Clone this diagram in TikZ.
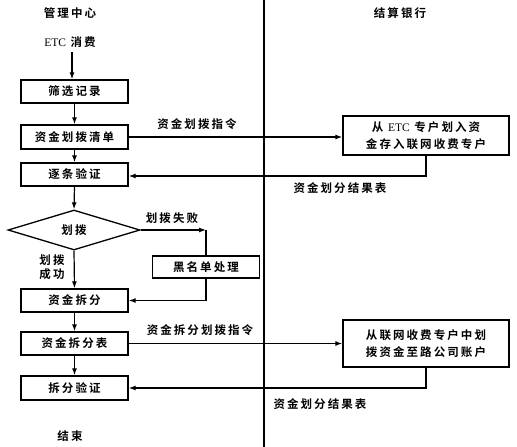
\documentclass[tikz,border=0pt]{standalone}
\usepackage{fontspec}
\setmainfont{Noto Sans CJK SC}[LetterSpace=18,BoldFont={Noto Sans CJK SC Bold}]
\newfontfamily\latf{Liberation Serif}[BoldFont={Liberation Serif Bold}]
\usetikzlibrary{arrows.meta,shapes.geometric}
\begin{document}
\begin{tikzpicture}[x=1pt,y=-1pt,
  fnt/.style={font=\fontsize{11.5}{14}\selectfont\bfseries},
  txt/.style={inner sep=0pt,fnt},
  box/.style={draw,line width=1.3pt,minimum width=107pt,minimum height=23pt,inner sep=0pt,fnt},
  bank/.style={draw,line width=1.3pt,minimum width=166pt,inner sep=0pt,align=center,font=\fontsize{11.5}{17}\selectfont\bfseries},
  dec/.style={draw,diamond,line width=1.3pt,minimum width=132pt,minimum height=40pt,inner sep=0pt,fnt},
  ln/.style={line width=1.2pt},
  arr/.style={line width=1.2pt,-{Latex[length=7pt,width=5pt]}}]
\useasboundingbox (0,0) rectangle (517,447);
\fill[white] (0,0) rectangle (517,447);
% lane divider
\coordinate (vt) at (264,0);
\coordinate (vb) at (264,447);
\draw[line width=1.1pt] (vt) -- (vb);
% headers
\node[txt] (h1) at (70,13) {管理中心};
\node[txt] (h2) at (400,13) {结算银行};
\node[txt] (etc) at (70,42) {{\latf\mdseries ETC} 消费};
% left column
\node[box] (b1) at (74.5,91.5) {筛选记录};
\node[box,minimum height=24pt] (b2) at (74.5,137) {资金划拨清单};
\node[box] (b3) at (74.5,174.5) {逐条验证};
\node[dec] (d) at (74,230) {划拨};
\node[box,minimum height=22pt] (bl) at (206,267) {黑名单处理};
\node[box] (b4) at (74.5,300.5) {资金拆分};
\node[box] (b5) at (74.5,343.5) {资金拆分表};
\node[box,minimum height=24pt] (b6) at (74.5,388) {拆分验证};
\node[txt] (end) at (70,436) {结束};
% bank column
\node[bank,minimum height=39pt] (k1) at (426,135.5) {从 {\latf\mdseries ETC} 专户划入资\\金存入联网收费专户};
\node[bank,minimum height=47pt] (k2) at (426,343.5) {从联网收费专户中划\\拨资金至路公司账户};
% labels
\node[txt] (l1) at (197,124) {资金划拨指令};
\node[txt] (l2) at (340,188) {资金划分结果表};
\node[txt] (l3) at (172,218) {划拨失败};
\node[txt,align=center] (l4) at (52,267) {划拨\\成功};
\node[txt] (l5) at (200,330) {资金拆分划拨指令};
\node[txt] (l6) at (320,404) {资金划分结果表};
% flow
\coordinate (e0) at (72,52);
\draw[arr] (e0) -- (e0 |- b1.north);
\draw[arr] (b1) -- (b2);
\draw[arr] (b2) -- (b3);
\draw[arr] (b3.south) -- (d.north);
\draw[arr] (d.south) -- (b4.north);
\draw[arr] (b4) -- (b5);
\draw[arr] (b5) -- (b6);
\coordinate (c1) at (206,230);
\draw[arr] (d.east) -- (c1);
\draw[ln] (c1) -- (bl.north);
\draw[arr] (bl.south) |- (b4.east);
\draw[arr] (b2.east) -- (b2.east -| k1.west);
\draw[arr] (k1.south) |- ([yshift=-1.5pt]b3.east);
\draw[arr] (b5.east) -- (b5.east -| k2.west);
\draw[arr] (k2.south) |- (b6.east);
\end{tikzpicture}
\end{document}
